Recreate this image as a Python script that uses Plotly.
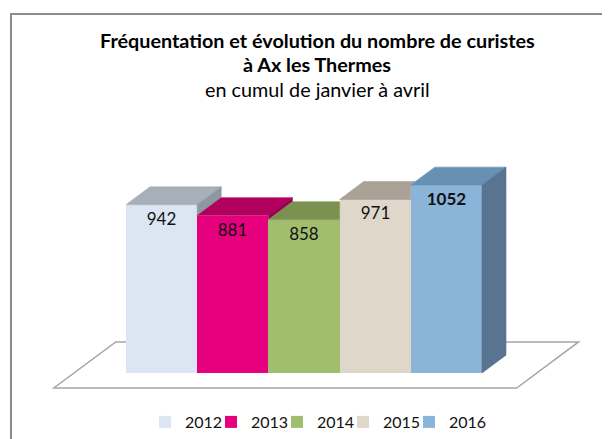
import plotly.graph_objects as go

# ---- data ----
years = ["2012", "2013", "2014", "2015", "2016"]
values = [942, 881, 858, 971, 1052]
front_colors = ["#DCE6F2", "#E6007E", "#A0BE6E", "#DFD8CA", "#8AB4D8"]
top_colors = ["#A7AFB8", "#B2005F", "#7A9150", "#AAA197", "#6890B2"]
side_colors = ["#8E98A1", "#9A0052", "#68803F", "#948B80", "#587491"]
bold_label = [False, False, False, False, True]

title_l1 = "Fréquentation et évolution du nombre de curistes"
title_l2 = "à Ax les Thermes"
subtitle = "en cumul de janvier à avril"

# ---- style / geometry constants ----
FONT = "Lato"
W, H = 610, 439
OFF = 8        # page body margin of the browser
DX = 0.337     # depth shear (x units)
DY = 100.0     # depth (y units)
FLOOR_FRONT, FLOOR_BACK = -84.0, 174.0
FLOOR_L0, FLOOR_R0 = -1.23, 5.27   # floor x extents at the bars' front plane


def px(x):
    return (x - OFF) / W


def py(y):
    return 1 - (y - OFF) / H


fig = go.Figure()

# front faces: real bars
for i, (yr, v) in enumerate(zip(years, values)):
    fig.add_trace(go.Bar(
        x=[i], y=[v], width=[1.0], name=yr,
        marker=dict(color=front_colors[i], line=dict(width=0)),
        text=[f"<b>{v}</b>" if bold_label[i] else str(v)],
        textposition="inside", insidetextanchor="end",
        textfont=dict(family=FONT, size=17, color="#111111"),
        hoverinfo="skip",
        legendwidth=45 if i == len(years) - 1 else None,
    ))

# 3D top and side faces, derived from the values
def poly(xs, ys, color):
    fig.add_trace(go.Scatter(
        x=xs + [xs[0]], y=ys + [ys[0]], mode="lines", fill="toself",
        fillcolor=color, line=dict(width=0.6, color=color),
        showlegend=False, hoverinfo="skip",
    ))

n = len(values)
for i, v in enumerate(values):
    x0 = i + 0.5
    nxt = values[i + 1] if i + 1 < n else None
    # top face
    if nxt is None or nxt <= v:
        tx = [i - 0.5, x0, x0 + DX, i - 0.5 + DX]
        ty = [v, v, v + DY, v + DY]
    else:
        ycut = min(nxt, v + DY)
        xint = x0 + max(0.0, v + DY - nxt) * DX / DY
        tx = [i - 0.5, x0, x0, xint, i - 0.5 + DX]
        ty = [v, v, ycut, v + DY, v + DY]
    poly(tx, ty, top_colors[i])
    # side face (only the visible part)
    if nxt is None:
        poly([x0, x0, x0 + DX, x0 + DX], [0, v, v + DY, DY], side_colors[i])
    elif nxt < v:
        poly([x0, x0, x0 + DX, x0 + DX], [nxt, v, v + DY, nxt + DY], side_colors[i])

# floor (drawn below the traces)
k = DX / DY
fl = [(FLOOR_L0 + FLOOR_FRONT * k, FLOOR_FRONT), (FLOOR_R0 + FLOOR_FRONT * k, FLOOR_FRONT),
      (FLOOR_R0 + FLOOR_BACK * k, FLOOR_BACK), (FLOOR_L0 + FLOOR_BACK * k, FLOOR_BACK)]
path = "M " + " L ".join(f"{x},{y}" for x, y in fl) + " Z"
fig.add_shape(type="path", path=path, xref="x", yref="y", layer="below",
              line=dict(color="#A6A6A6", width=1.5), fillcolor="rgba(0,0,0,0)")

# outer frame
fig.add_shape(type="rect", xref="paper", yref="paper", x0=px(11), x1=1.05,
              y0=-0.05, y1=py(14), line=dict(color="#8C8C8C", width=2), layer="below")

# titles
for txt, yc, size in [(f"<b>{title_l1}</b>", 40, 19.8),
                      (f"<b>{title_l2}</b>", 64, 19.8),
                      (subtitle, 89, 19.8)]:
    fig.add_annotation(
        xref="paper", yref="paper", x=px(317), y=py(yc), xanchor="center", yanchor="middle",
        text=txt, showarrow=False, font=dict(family=FONT, size=size, color="#000000"),
    )

# axis ranges chosen so that 0 sits at the floor plane of the bars
x_lo = -0.5 + (OFF - 126) / 71.2
x_hi = -0.5 + (OFF + W - 126) / 71.2
y_hi = (373 - OFF) / 0.1787
y_lo = (373 - OFF - H) / 0.1787

fig.update_layout(
    width=W, height=H, margin=dict(l=0, r=0, t=0, b=0),
    paper_bgcolor="white", plot_bgcolor="rgba(0,0,0,0)",
    barmode="overlay", bargap=0, hovermode=False,
    xaxis=dict(range=[x_lo, x_hi], visible=False, fixedrange=True),
    yaxis=dict(range=[y_lo, y_hi], visible=False, fixedrange=True),
    showlegend=True,
    legend=dict(orientation="h", x=px(145), xanchor="left", y=py(422), yanchor="middle",
                entrywidth=21, entrywidthmode="pixels",
                font=dict(family=FONT, size=16, color="#111111"), bgcolor="rgba(0,0,0,0)"),
)

fig.write_html("out.html")
